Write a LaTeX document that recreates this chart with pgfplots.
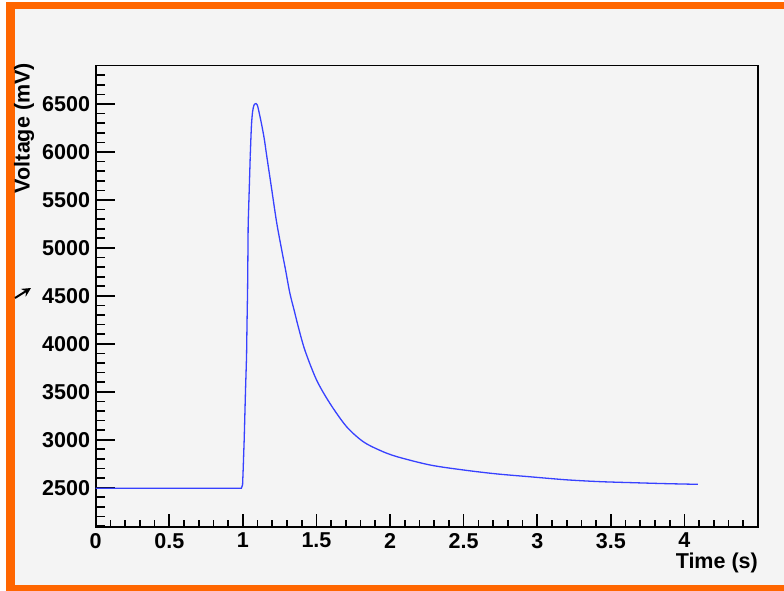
\documentclass[border=0pt]{standalone}
\usepackage{pgfplots}
\pgfplotsset{compat=1.18}
\usepackage{pgfplotstable}
\usetikzlibrary{arrows.meta}
\usepackage{fontspec}
\setmainfont{Liberation Sans}
\definecolor{bgg}{RGB}{244,244,244}
\definecolor{frameor}{RGB}{255,102,0}
\definecolor{curveb}{RGB}{55,65,255}
\pgfplotstableread{
t V
0.000 2495
0.990 2495
0.998 2530
1.002 2690
1.009 3005
1.018 3520
1.025 3870
1.028 4200
1.032 4560
1.034 4900
1.036 5250
1.043 5600
1.050 5955
}\riseT
\pgfplotstableread{
t V
1.050 5955
1.058 6270
1.066 6420
1.076 6490
1.090 6505
1.100 6480
1.112 6400
1.127 6290
1.145 6140
1.161 5970
1.195 5620
1.229 5270
1.263 4985
1.290 4770
1.319 4530
1.350 4340
1.376 4180
1.421 3935
1.500 3625
1.591 3380
1.704 3137
1.817 2980
1.930 2890
2.043 2825
2.270 2737
2.496 2685
2.722 2644
2.948 2614
3.198 2582
3.424 2563
3.650 2552
3.876 2542
4.091 2535
}\decayT
\begin{document}
\begin{tikzpicture}[x=1pt,y=1pt]
\useasboundingbox (0,0) rectangle (784,591);
\fill[white] (0,0) rectangle (784,591);
\fill[frameor] (6,0) rectangle (784,589);
\fill[bgg] (15,6) rectangle (784,582);
\pgfplotsset{base/.style={
  at={(95.7pt,64pt)}, anchor=south west, scale only axis,
  width=662.3pt, height=461.3pt,
  xmin=0, xmax=4.5, ymin=2090, ymax=6900,
  tick align=inside,
  scaled ticks=false,
  /pgf/number format/assume math mode=true,
  /pgf/number format/1000 sep={},
  tick style={black, line width=1.7pt},
  minor tick style={black, line width=1.7pt},
  ticklabel style={font=\fontsize{21.5}{21.5}\selectfont\bfseries, inner sep=0pt},
}}
\begin{axis}[base,
  xtick={0,0.5,1,1.5,2,2.5,3,3.5,4},
  minor xtick={0.1,0.2,0.3,0.4,0.6,0.7,0.8,0.9,1.1,1.2,1.3,1.4,1.6,1.7,1.8,1.9,2.1,2.2,2.3,2.4,2.6,2.7,2.8,2.9,3.1,3.2,3.3,3.4,3.6,3.7,3.8,3.9,4.1,4.2,4.3,4.4},
  ytick=\empty,
  xtick pos=left,
  major tick length=13pt, minor tick length=7pt,
  xticklabel style={anchor=north, yshift=-6pt},
  axis line style={black, line width=1.6pt},
]
\end{axis}
\begin{axis}[base,
  xtick=\empty,
  ytick={2500,3000,3500,4000,4500,5000,5500,6000,6500},
  minor ytick={2100,2200,2300,2400,2600,2700,2800,2900,3100,3200,3300,3400,3600,3700,3800,3900,4100,4200,4300,4400,4600,4700,4800,4900,5100,5200,5300,5400,5600,5700,5800,5900,6100,6200,6300,6400,6600,6700,6800},
  ytick pos=left,
  major tick length=19pt, minor tick length=9pt,
  yticklabel style={anchor=east, xshift=-5.5pt},
  axis line style={draw=none},
]
\addplot[curveb, line width=1.3pt, mark=none] table[x=t,y=V]{\riseT};
\addplot[curveb, line width=1.3pt, mark=none, smooth, tension=0.5] table[x=t,y=V]{\decayT};
\end{axis}
\node[rotate=90, anchor=base east, inner sep=0pt, font=\fontsize{21.5}{21.5}\selectfont\bfseries] at (29.5,528) {Voltage (mV)};
\node[anchor=base east, inner sep=0pt, font=\fontsize{21.5}{21.5}\selectfont\bfseries] at (758,22) {Time (s)};
\draw[-{Stealth[length=9pt,width=9pt]}, line width=2pt] (15,293) -- (31,303);
\end{tikzpicture}
\end{document}
